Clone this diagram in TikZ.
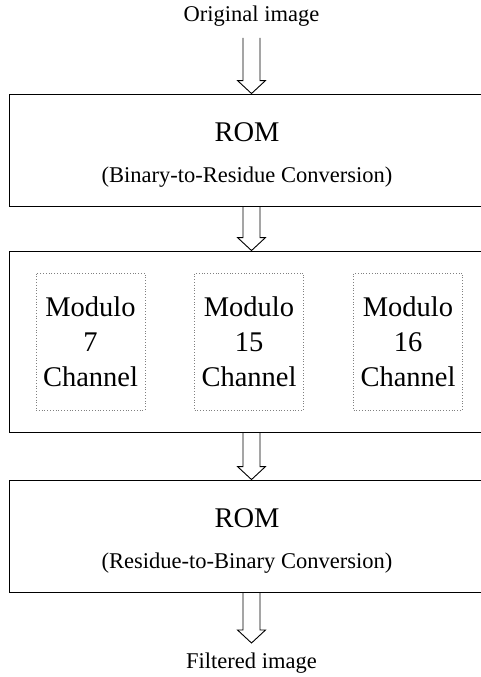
\documentclass[tikz,border=0pt]{standalone}
\usepackage{fontspec}
\setmainfont{Liberation Serif}
\usetikzlibrary{calc,positioning}
\newcommand{\bigtext}{\fontsize{28.5}{35}\selectfont}
\newcommand{\subtext}{\fontsize{22.5}{27}\selectfont}
\tikzstyle{rombox} = [rectangle, minimum width=476pt, minimum height=112pt, draw, line width=0.9pt, inner sep=0pt]
\tikzstyle{chanbox} = [rectangle, minimum width=109pt, minimum height=137pt, draw=gray, dotted, line width=0.8pt, align=center, font=\bigtext, inner sep=0pt]
\tikzstyle{iotext} = [font=\subtext, anchor=base]
\tikzstyle{romtext} = [font=\bigtext, anchor=base]
% hollow block arrow from #1 down to #2
\newcommand{\hollowarrow}[2]{%
  \draw[line width=0.9pt] ($(#1)+(-8.5,0)$) -- ($(#2)+(-8.5,-13)$) -- ($(#2)+(-14,-13)$) -- (#2)
    -- ($(#2)+(14,-13)$) -- ($(#2)+(8.5,-13)$) -- ($(#1)+(8.5,0)$);}

\begin{document}
\begin{tikzpicture}[x=1pt,y=-1pt]
\clip (0,0) rectangle (481,677);

% Input and output
\node[iotext] (orig) at (251.5,22) {Original image};
\node[iotext] (filt) at (251.5,668) {Filtered image};
\coordinate (intop) at (251.5,38);
\coordinate (outtip) at (251.5,643);

% Conversion boxes
\node[rombox] (rom1) at (247,150) {};
\node[romtext] (rom1a) at (247,141) {ROM};
\node[iotext] (rom1b) at (247,182) {(Binary-to-Residue Conversion)};

\node[rombox, minimum height=181pt] (chan) at (247,341.5) {};

\node[rombox] (rom2) at (247,536) {};
\node[romtext] (rom2a) at (247,527) {ROM};
\node[iotext] (rom2b) at (247,568) {(Residue-to-Binary Conversion)};

% Channels
\node[chanbox] (mod7) at (90.5,341.5) {Modulo\\7\\Channel};
\node[chanbox] (mod15) at (249,341.5) {Modulo\\15\\Channel};
\node[chanbox] (mod16) at (408,341.5) {Modulo\\16\\Channel};

% Arrows
\hollowarrow{intop}{rom1.north -| intop}
\hollowarrow{rom1.south -| intop}{chan.north -| intop}
\hollowarrow{chan.south -| intop}{rom2.north -| intop}
\hollowarrow{rom2.south -| intop}{outtip}
\end{tikzpicture}
\end{document}
